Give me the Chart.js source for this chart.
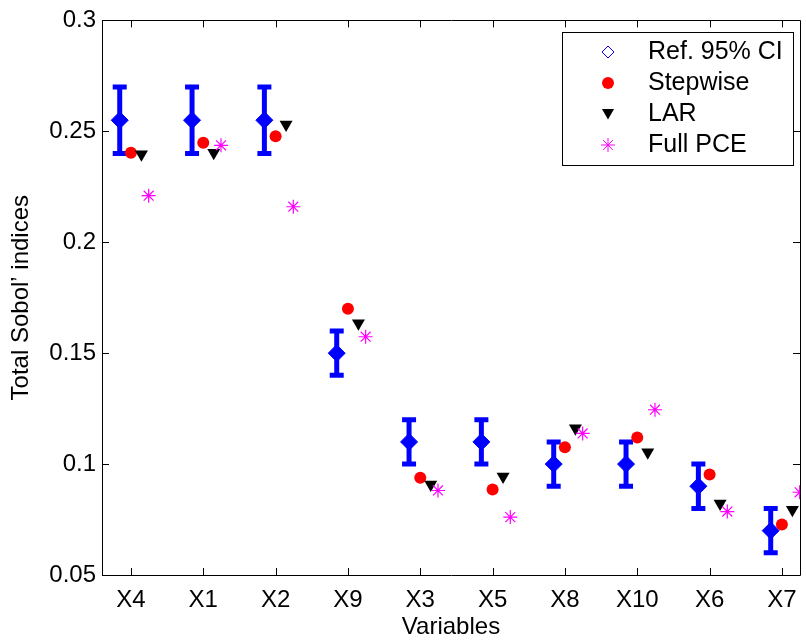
<!DOCTYPE html>
<html>
<head>
<meta charset="utf-8">
<script src="https://cdn.jsdelivr.net/npm/chart.js@4/dist/chart.umd.min.js"></script>
<style>
  html, body { margin: 0; padding: 0; background: #fff; overflow: hidden; }
  #wrap { width: 812px; height: 642px; }
</style>
</head>
<body>
<div id="wrap"><canvas id="chart" width="812" height="642"></canvas></div>
<script>
const categories = ["X4", "X1", "X2", "X9", "X3", "X5", "X8", "X10", "X6", "X7"];
const refMean = [0.255, 0.255, 0.255, 0.15, 0.11, 0.11, 0.10, 0.10, 0.09, 0.07];
const refLow = [0.24, 0.24, 0.24, 0.14, 0.10, 0.10, 0.09, 0.09, 0.08, 0.06];
const refHigh = [0.27, 0.27, 0.27, 0.16, 0.12, 0.12, 0.11, 0.11, 0.10, 0.08];
const stepwise = [0.2403, 0.2449, 0.2478, 0.170, 0.0938, 0.0885, 0.1076, 0.1120, 0.0953, 0.0728];
const lar = [0.2397, 0.2403, 0.2531, 0.1635, 0.0908, 0.0944, 0.1162, 0.1053, 0.0822, 0.0794];
const fullPce = [0.221, 0.2437, 0.2160, 0.1574, 0.0881, 0.0761, 0.1138, 0.1245, 0.0786, 0.0873];
const yTicks = [0.05, 0.1, 0.15, 0.2, 0.25, 0.3];
const legendLabels = ["Ref. 95% CI", "Stepwise", "LAR", "Full PCE"];

// horizontal dodge of each series around the category position
const OFF_REF = -0.155, OFF_STEP = 0, OFF_LAR = 0.145, OFF_PCE = 0.245;
const FONT = "'Liberation Sans', Arial, sans-serif";

const pts = (vals, off) => vals.map((v, i) => ({ x: i + 1 + off, y: v }));

const stems = [];
refLow.forEach((lo, i) => {
  const x = i + 1 + OFF_REF;
  stems.push({ x, y: lo }, { x, y: refHigh[i] }, { x, y: null });
});
const caps = [...pts(refLow, OFF_REF), ...pts(refHigh, OFF_REF)];

// frame + inward ticks, MATLAB style
const framePlugin = {
  id: "frame",
  afterDatasetsDraw(chart) {
    const { ctx, chartArea: a, scales } = chart;
    ctx.save();
    ctx.strokeStyle = "#000";
    ctx.lineWidth = 1;
    ctx.beginPath();
    ctx.rect(Math.round(a.left) + 0.5, Math.round(a.top) + 0.5,
      Math.round(a.right - a.left), Math.round(a.bottom - a.top));
    ctx.stroke();
    const tl = 7;
    ctx.beginPath();
    scales.y.ticks.forEach((t) => {
      const y = Math.round(scales.y.getPixelForValue(t.value)) + 0.5;
      ctx.moveTo(a.left, y); ctx.lineTo(a.left + tl, y);
      ctx.moveTo(a.right, y); ctx.lineTo(a.right - tl, y);
    });
    scales.x.ticks.forEach((t) => {
      const x = Math.round(scales.x.getPixelForValue(t.value)) + 0.5;
      ctx.moveTo(x, a.bottom); ctx.lineTo(x, a.bottom - tl);
      ctx.moveTo(x, a.top); ctx.lineTo(x, a.top + tl);
    });
    ctx.stroke();
    ctx.restore();
  },
};

const legendPlugin = {
  id: "boxLegend",
  afterDraw(chart) {
    const { ctx } = chart;
    const box = { x: 562.5, y: 32.5, w: 231, h: 133 };
    ctx.save();
    ctx.fillStyle = "#fff";
    ctx.strokeStyle = "#000";
    ctx.lineWidth = 1;
    ctx.fillRect(box.x, box.y, box.w, box.h);
    ctx.strokeRect(box.x, box.y, box.w, box.h);
    const markers = [
      { pointStyle: "rectRot", radius: 6, borderWidth: 1.3, fill: "rgba(0,0,0,0)", stroke: "#0000ff", rotation: 0 },
      { pointStyle: "circle", radius: 6, borderWidth: 0, fill: "#ff0000", stroke: "#ff0000", rotation: 0 },
      { pointStyle: "triangle", radius: 7, borderWidth: 0, fill: "#000", stroke: "#000", rotation: 180 },
      { pointStyle: "star", radius: 7, borderWidth: 1.2, fill: "#ff00ff", stroke: "#ff00ff", rotation: 0 },
    ];
    ctx.font = "25px " + FONT;
    ctx.textBaseline = "middle";
    ctx.textAlign = "left";
    legendLabels.forEach((label, i) => {
      const y = 52 + i * 31;
      const m = markers[i];
      ctx.fillStyle = m.fill;
      ctx.strokeStyle = m.stroke;
      Chart.helpers.drawPoint(ctx, m, 608, y + (m.pointStyle === "triangle" ? -1.5 : 0));
      ctx.fillStyle = "#000";
      ctx.fillText(label, 648, y);
    });
    ctx.restore();
  },
};

new Chart(document.getElementById("chart"), {
  type: "scatter",
  data: {
    datasets: [
      {
        label: "stems", data: stems, showLine: true, spanGaps: false,
        borderColor: "#0000ff", borderWidth: 5, pointRadius: 0, order: 6,
      },
      {
        label: "caps", data: caps, pointStyle: "line", pointRadius: 7,
        borderColor: "#0000ff", borderWidth: 5, order: 5,
      },
      {
        label: legendLabels[0], data: pts(refMean, OFF_REF), pointStyle: "rectRot",
        pointRadius: 8.5, backgroundColor: "#0000ff", borderColor: "#0000ff", borderWidth: 1, order: 4,
      },
      {
        label: legendLabels[1], data: pts(stepwise, OFF_STEP), pointStyle: "circle",
        pointRadius: 6, backgroundColor: "#ff0000", borderColor: "#ff0000", borderWidth: 0, order: 3,
      },
      {
        label: legendLabels[2], data: pts(lar, OFF_LAR), pointStyle: "triangle", rotation: 180,
        pointRadius: 7.5, backgroundColor: "#000", borderColor: "#000", borderWidth: 0, order: 2,
      },
      {
        label: legendLabels[3], data: pts(fullPce, OFF_PCE), pointStyle: "star",
        pointRadius: 7, backgroundColor: "#ff00ff", borderColor: "#ff00ff", borderWidth: 1.2, order: 1,
      },
    ],
  },
  options: {
    responsive: false,
    animation: false,
    events: [],
    layout: { padding: { top: 20, right: 4, bottom: 0, left: 0 } },
    plugins: { legend: { display: false }, tooltip: { enabled: false } },
    scales: {
      x: {
        type: "linear", min: 0.6, max: 10.25,
        grid: { display: false, drawTicks: false }, border: { display: false },
        afterBuildTicks: (s) => { s.ticks = categories.map((c, i) => ({ value: i + 1 })); },
        afterFit: (s) => { s.height = 67; },
        ticks: {
          color: "#000", padding: 11, maxRotation: 0, autoSkip: false,
          font: { family: FONT, size: 24 },
          callback: (v, i) => categories[i],
        },
        title: {
          display: true, text: "Variables", color: "#000",
          font: { family: FONT, size: 24 }, padding: { top: 0, bottom: 0 },
        },
      },
      y: {
        min: 0.05, max: 0.3,
        grid: { display: false, drawTicks: false }, border: { display: false },
        afterBuildTicks: (s) => { s.ticks = yTicks.map((v) => ({ value: v })); },
        afterFit: (s) => { s.width = 102; },
        ticks: {
          color: "#000", padding: 6,
          font: { family: FONT, size: 24 },
          callback: (v) => String(+v.toFixed(2)),
        },
        title: {
          display: true, text: "Total Sobol’ indices", color: "#000",
          font: { family: FONT, size: 24 }, padding: { top: 7, bottom: 0 },
        },
      },
    },
  },
  plugins: [framePlugin, legendPlugin],
});
</script>
</body>
</html>
